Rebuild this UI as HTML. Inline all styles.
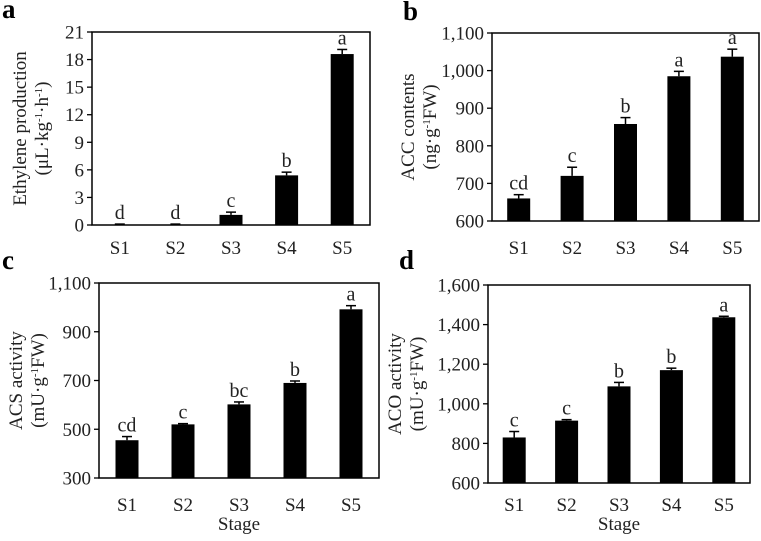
<!DOCTYPE html>
<html><head><meta charset="utf-8"><style>
html,body{margin:0;padding:0;background:#fff}
svg{display:block;font-family:"Liberation Serif",serif}
</style></head><body>
<svg id="fig" width="761" height="541" viewBox="0 0 761 541"></svg>
<script>
const categories=["S1","S2","S3","S4","S5"];
const ethyleneValues=[0,0,1.1,5.4,18.6];
const ethyleneErrors=[0.1,0.1,0.3,0.35,0.5];
const ethyleneLetters=["d","d","c","b","a"];
const ethyleneTicks=[0,3,6,9,12,15,18,21];
const accValues=[660,720,858,985,1037];
const accErrors=[10,23,17,13,20];
const accLetters=["cd","c","b","a","a"];
const accTicks=[600,700,800,900,1000,1100];
const acsValues=[455,520,602,690,992];
const acsErrors=[15,3,10,8,15];
const acsLetters=["cd","c","bc","b","a"];
const acsTicks=[300,500,700,900,1100];
const acoValues=[830,915,1088,1170,1437];
const acoErrors=[30,5,20,10,5];
const acoLetters=["c","c","b","b","a"];
const acoTicks=[600,800,1000,1200,1400,1600];

const NS="http://www.w3.org/2000/svg";
const svg=document.getElementById('fig');
function mk(tag,attrs,parent,text){const e=document.createElementNS(NS,tag);for(const k in attrs)e.setAttribute(k,attrs[k]);if(text!==undefined)e.textContent=text;(parent||svg).appendChild(e);return e;}
function fmt(v){return v.toLocaleString('en-US');}

function panel(id,box,vals,errs,letters,ticks,label,titleLines,labelPos,labelY,showStage,titleX){
  const g=mk('g',{});
  
  
  const [L,T,R,B]=box;
  const ymin=ticks[0],ymax=ticks[ticks.length-1];
  const y=v=>B-(v-ymin)/(ymax-ymin)*(B-T);
  const step=(R-L)/categories.length;
  const x=i=>L+step*(i+0.5);
  const frame=mk('rect',{x:L,y:T,width:R-L,height:B-T,fill:'none',stroke:'#000','stroke-width':1.5},g);
  
  
  ticks.forEach(t=>{
    mk('line',{x1:L-5,x2:L,y1:y(t),y2:y(t),stroke:'#000','stroke-width':1.3},g);
    const tl=mk('text',{x:L-8,y:y(t)+6.5,'text-anchor':'end','font-size':19,fill:'#222'},g,fmt(t));
    
    
  });
  vals.forEach((v,i)=>{
    const bw=23,cx=x(i);
    const bar=mk('rect',{x:cx-bw/2,y:y(v),width:bw,height:B-y(v),fill:'#000'},g);
    
    
    const top=y(v+errs[i]);
    mk('line',{x1:cx,x2:cx,y1:y(v),y2:top,stroke:'#000','stroke-width':1.5},g);
    mk('line',{x1:cx-5,x2:cx+5,y1:top,y2:top,stroke:'#000','stroke-width':1.5},g);
    const lt=mk('text',{x:cx,y:top-5,'text-anchor':'middle','font-size':20,fill:'#222'},g,letters[i]);
    
    
    const xl=mk('text',{x:cx,y:labelY,'text-anchor':'middle','font-size':19,fill:'#222'},g,categories[i]);
    
    
  });
  const pl=mk('text',{x:labelPos[0],y:labelPos[1],'font-size':27,'font-weight':'bold',fill:'#000'},g,label);
  
  
  const cy=(T+B)/2, tx=titleX;
  const yt=mk('text',{transform:`translate(${tx},${cy}) rotate(-90)`,'text-anchor':'middle','font-size':19,fill:'#222'},g);
  
  
  mk('tspan',{x:0,dy:-4},yt,titleLines[0]);
  const t2=mk('tspan',{x:0,dy:22},yt);
  titleLines[1].forEach(p=>{ if(p.sup) mk('tspan',{dy:-6,'font-size':11},t2,p.t); else if(p.down) mk('tspan',{dy:6},t2,p.t); else t2.appendChild(document.createTextNode(p.t)); });
  if(showStage){
    const st=mk('text',{x:(L+R)/2,y:labelY+19,'text-anchor':'middle','font-size':19,fill:'#222'},g,'Stage');
    
    
  }
}
panel('a',[92,32,370,225],ethyleneValues,ethyleneErrors,ethyleneLetters,ethyleneTicks,'a',
 ['Ethylene production',[{t:'(μL·kg'},{t:'-1',sup:1},{t:'·h',down:1},{t:'-1',sup:1},{t:')',down:1}]],[2,18],254,false,30);
panel('b',[492,33,759,221],accValues,accErrors,accLetters,accTicks,'b',
 ['ACC contents',[{t:'(ng·g'},{t:'-1',sup:1},{t:'FW)',down:1}]],[403,20],254,false,418);
panel('c',[99,283,379,478],acsValues,acsErrors,acsLetters,acsTicks,'c',
 ['ACS activity',[{t:'(mU·g'},{t:'-1',sup:1},{t:'FW)',down:1}]],[2,269],511,true,26);
panel('d',[488,285,750,483],acoValues,acoErrors,acoLetters,acoTicks,'d',
 ['ACO activity',[{t:'(mU·g'},{t:'-1',sup:1},{t:'FW)',down:1}]],[399,269],511,true,405);
</script>
</body></html>
